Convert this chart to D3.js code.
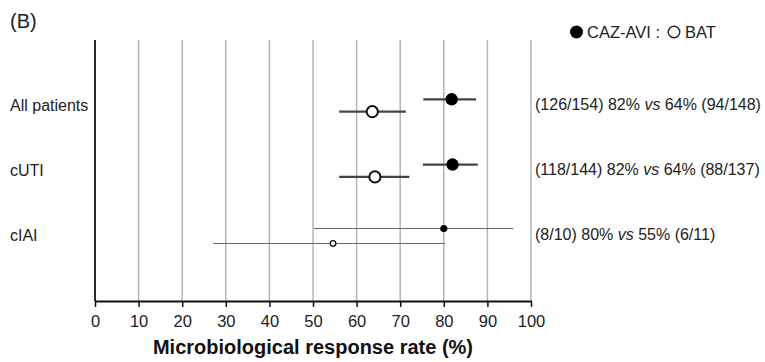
<!DOCTYPE html>
<html>
<head>
<meta charset="utf-8">
<script src="https://cdn.jsdelivr.net/npm/d3@7"></script>
<style>
  body { margin: 0; background: #fff; }
  svg { font-family: "Liberation Sans", Arial, sans-serif; }
</style>
</head>
<body>
<div id="chart"></div>
<script>
// groups, top to bottom
const groups = ['All patients', 'cUTI', 'cIAI'];

// CAZ-AVI response rate (%) and 95% CI
const cazRate = [81.8, 82.0, 80.0];
const cazLow = [75.3, 75.2, 50.2];
const cazHigh = [87.4, 87.8, 95.9];

// BAT response rate (%) and 95% CI
const batRate = [63.6, 64.2, 54.6];
const batLow = [56.0, 56.0, 27.1];
const batHigh = [71.3, 72.1, 80.3];

// right-hand annotations
const cazCounts = ['(126/154) 82%', '(118/144) 82%', '(8/10) 80%'];
const batCounts = ['64% (94/148)', '64% (88/137)', '55% (6/11)'];

const xTicks = [0, 10, 20, 30, 40, 50, 60, 70, 80, 90, 100];

const width = 765, height = 362;
const plot = { left: 95, right: 531, top: 40, bottom: 301 };

const svg = d3.select('#chart').append('svg')
  .attr('width', width)
  .attr('height', height);

const x = d3.scaleLinear().domain([0, 100]).range([plot.left, plot.right]);
const y = d3.scalePoint().domain(groups).range([105.5, 236]);

// grid lines
svg.append('g')
  .selectAll('line')
  .data(xTicks.slice(1))
  .join('line')
  .attr('x1', d => x(d)).attr('x2', d => x(d))
  .attr('y1', plot.top).attr('y2', plot.bottom)
  .attr('stroke', '#b4b4b4')
  .attr('stroke-width', 1.5);

// left axis line
svg.append('line')
  .attr('x1', x(0)).attr('x2', x(0))
  .attr('y1', plot.top).attr('y2', plot.bottom)
  .attr('stroke', '#111')
  .attr('stroke-width', 1.8);

// x axis
const xAxis = d3.axisBottom(x)
  .tickValues(xTicks)
  .tickSize(6)
  .tickPadding(8)
  .tickSizeOuter(0);

const ax = svg.append('g')
  .attr('transform', `translate(0,${plot.bottom})`)
  .call(xAxis);
ax.select('.domain').attr('stroke', '#111').attr('stroke-width', 1.8);
ax.selectAll('.tick line').attr('stroke', '#111').attr('stroke-width', 1.5);
ax.selectAll('.tick text')
  .attr('fill', '#222')
  .style('font-size', '16.5px')
  .style('font-family', '"Liberation Sans", Arial, sans-serif');

svg.append('text')
  .attr('x', (plot.left + plot.right) / 2)
  .attr('y', 354)
  .attr('text-anchor', 'middle')
  .attr('font-weight', 'bold')
  .attr('font-size', 20)
  .attr('fill', '#111')
  .text('Microbiological response rate (%)');

// panel label
svg.append('text')
  .attr('x', 10).attr('y', 27.5)
  .attr('font-size', 20)
  .attr('fill', '#222')
  .text('(B)');

// group labels
svg.append('g')
  .selectAll('text')
  .data(groups)
  .join('text')
  .attr('x', 10)
  .attr('y', d => y(d) - 0.5)
  .attr('dy', '0.35em')
  .attr('font-size', 16)
  .attr('fill', '#222')
  .text(d => d);

// build rows
const rows = groups.map((g, i) => ({
  group: g,
  small: g === 'cIAI',
  caz: { rate: cazRate[i], low: cazLow[i], high: cazHigh[i] },
  bat: { rate: batRate[i], low: batLow[i], high: batHigh[i] },
  cazText: cazCounts[i],
  batText: batCounts[i]
}));

const offset = d => d.small ? 7.5 : 6.2;

const marks = svg.append('g');
const notes = svg.append('g')
  .attr('font-size', 16)
  .attr('fill', '#222');

rows.forEach(r => {
  const yc = y(r.group) - offset(r);
  const yb = y(r.group) + offset(r);
  const lw = r.small ? 1.2 : 2.2;
  const lc = r.small ? '#666' : '#444';

  marks.append('line')
    .attr('x1', x(r.caz.low)).attr('x2', x(r.caz.high))
    .attr('y1', yc).attr('y2', yc)
    .attr('stroke', lc).attr('stroke-width', lw);
  marks.append('line')
    .attr('x1', x(r.bat.low)).attr('x2', x(r.bat.high))
    .attr('y1', yb).attr('y2', yb)
    .attr('stroke', lc).attr('stroke-width', lw);

  marks.append('circle')
    .attr('cx', x(r.caz.rate)).attr('cy', yc)
    .attr('r', r.small ? 3.6 : 6.2)
    .attr('fill', '#000');
  marks.append('circle')
    .attr('cx', x(r.bat.rate)).attr('cy', yb)
    .attr('r', r.small ? 2.8 : 5.6)
    .attr('fill', '#fff')
    .attr('stroke', '#111')
    .attr('stroke-width', r.small ? 1.3 : 2);

  const t = notes.append('text')
    .attr('x', 535)
    .attr('y', y(r.group) - 1.5)
    .attr('dy', '0.35em');
  t.append('tspan').text(r.cazText + ' ');
  t.append('tspan').attr('font-style', 'italic').text('vs');
  t.append('tspan').text(' ' + r.batText);
});

// fit the annotations to the space right of the plot
const widest = d3.max(notes.selectAll('text').nodes(), n => n.getComputedTextLength());
notes.attr('font-size', Math.min(17, 16 * 226 / widest));

// legend
const lg = svg.append('g').attr('transform', 'translate(0,32)');
lg.append('circle').attr('cx', 576.5).attr('cy', 0).attr('r', 6.5).attr('fill', '#000');
lg.append('text')
  .attr('x', 587).attr('y', 0).attr('dy', '0.35em')
  .attr('font-size', 16.5).attr('fill', '#222')
  .text('CAZ-AVI :');
lg.append('circle').attr('cx', 674).attr('cy', 0).attr('r', 5.8)
  .attr('fill', '#fff').attr('stroke', '#222').attr('stroke-width', 1.4);
lg.append('text')
  .attr('x', 685).attr('y', 0).attr('dy', '0.35em')
  .attr('font-size', 16.5).attr('fill', '#222')
  .text('BAT');
</script>
</body>
</html>
